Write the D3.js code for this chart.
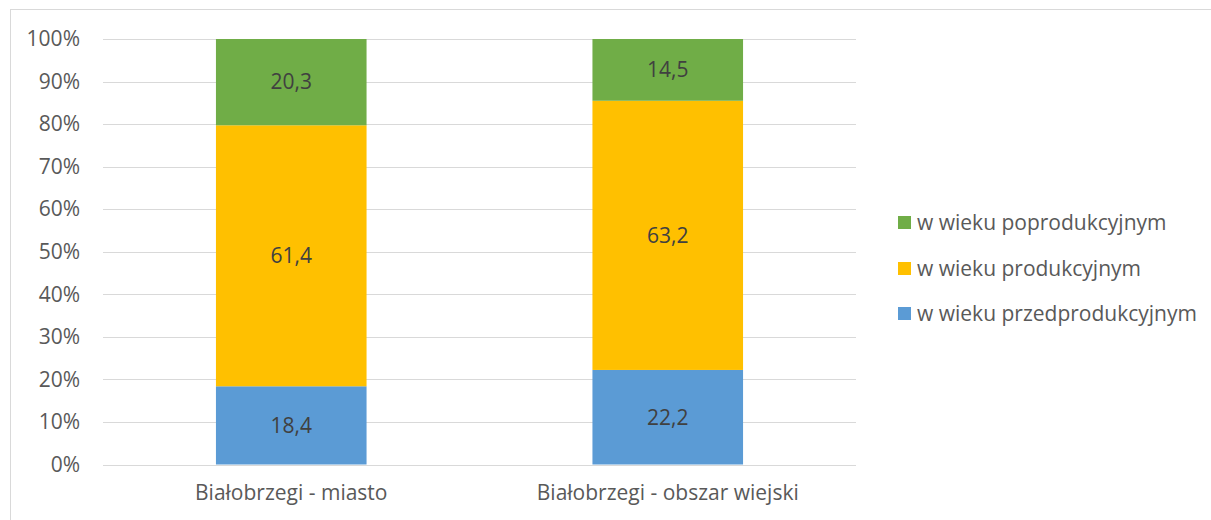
<!DOCTYPE html>
<html><head><meta charset="utf-8">
<script src="https://cdn.jsdelivr.net/npm/d3@7/dist/d3.min.js"></script>
<style>body{margin:0;background:#fff}svg{display:block}</style>
</head><body>
<script>
const categories = ["Białobrzegi - miasto", "Białobrzegi - obszar wiejski"];
const seriesNames = ["w wieku przedprodukcyjnym", "w wieku produkcyjnym", "w wieku poprodukcyjnym"];
const przed = [18.4, 22.2];
const prod = [61.4, 63.2];
const poprod = [20.3, 14.5];
const colors = ["#5B9BD5", "#FFC000", "#70AD47"];
const yTicks = [0, 10, 20, 30, 40, 50, 60, 70, 80, 90, 100];

const W = 1211, H = 520;
const font = "'Open Sans', sans-serif";
const fs = 21;
const svg = d3.select("body").append("svg").attr("width", W).attr("height", H);
svg.append("rect").attr("x", 10.5).attr("y", 9.5).attr("width", W + 5).attr("height", H + 5)
  .attr("fill", "#fff").attr("stroke", "#d9d9d9").attr("stroke-width", 1);

const x = d3.scaleBand().domain(categories).range([103, 856]).paddingInner(0.6).paddingOuter(0.3);
const y = d3.scaleLinear().domain([0, 100]).range([464.5, 39]);

const rows = categories.map((c, i) => {
  const vals = [przed[i], prod[i], poprod[i]];
  const tot = d3.sum(vals);
  const o = {cat: c};
  seriesNames.forEach((s, j) => o[s] = vals[j] / tot * 100);
  o.raw = vals;
  return o;
});
const stack = d3.stack().keys(seriesNames)(rows);

// gridlines
svg.append("g").selectAll("line").data(yTicks).join("line")
  .attr("x1", 103).attr("x2", 856)
  .attr("y1", d => Math.round(y(d)) + 0.5).attr("y2", d => Math.round(y(d)) + 0.5)
  .attr("stroke", "#d9d9d9").attr("stroke-width", 1);

// y axis
const yAxis = d3.axisLeft(y).tickValues(yTicks).tickFormat(d => d + "%").tickSize(0).tickPadding(0);
const ya = svg.append("g").attr("transform", "translate(80,0)").call(yAxis);
ya.select(".domain").remove();
ya.selectAll("text").attr("font-family", font).attr("font-size", fs).attr("fill", "#595959");

// bars
stack.forEach((layer, j) => {
  const g = svg.append("g");
  g.selectAll("rect").data(layer).join("rect")
    .attr("x", d => x(d.data.cat)).attr("width", x.bandwidth())
    .attr("y", d => y(d[1])).attr("height", d => y(d[0]) - y(d[1]))
    .attr("fill", colors[j]);
  g.selectAll("text").data(layer).join("text")
    .attr("x", d => x(d.data.cat) + x.bandwidth() / 2)
    .attr("y", d => (y(d[0]) + y(d[1])) / 2)
    .attr("dy", "0.35em").attr("text-anchor", "middle")
    .attr("font-family", font).attr("font-size", fs).attr("fill", "#404040")
    .text((d, i) => d3.format(".1f")(d.data.raw[j]).replace(".", ","));
});

// x axis
const xAxis = d3.axisBottom(x).tickSize(0).tickPadding(0);
const xa = svg.append("g").attr("transform", "translate(0,493)").call(xAxis);
xa.select(".domain").remove();
xa.selectAll("text").attr("font-family", font).attr("font-size", fs).attr("fill", "#595959").attr("dy", "0.35em");

// legend
const legendOrder = [2, 1, 0];
const legY = [222, 268, 313];
const lg = svg.append("g");
legendOrder.forEach((j, k) => {
  lg.append("rect").attr("x", 898).attr("y", legY[k] - 6).attr("width", 13).attr("height", 13).attr("fill", colors[j]);
  lg.append("text").attr("x", 917).attr("y", legY[k] + 1).attr("dy", "0.35em")
    .attr("font-family", font).attr("font-size", fs).attr("fill", "#595959").text(seriesNames[j]);
});
</script>
</body></html>
